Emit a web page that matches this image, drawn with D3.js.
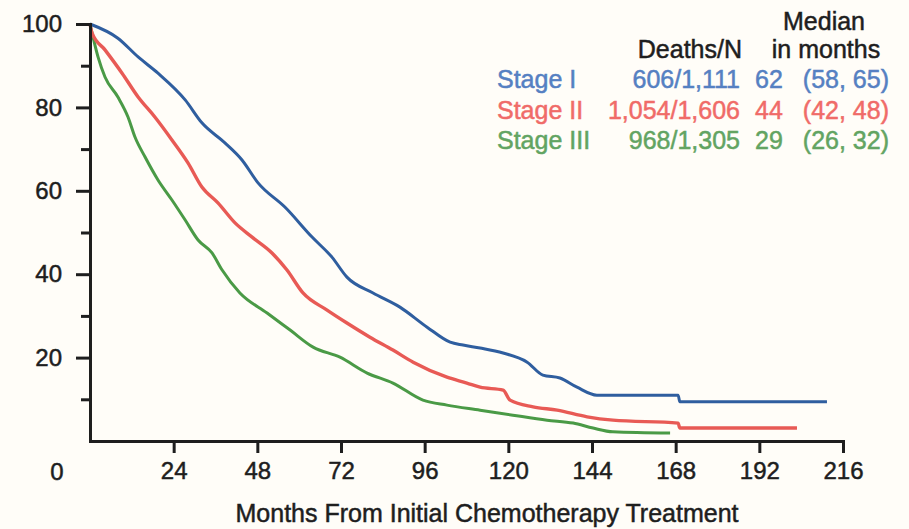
<!DOCTYPE html>
<html>
<head>
<meta charset="utf-8">
<script src="https://cdn.jsdelivr.net/npm/d3@7"></script>
<style>
  body { margin: 0; background: #fffdf8; }
  svg { display: block; font-family: "Liberation Sans", Arial, Helvetica, sans-serif; }
  svg text { stroke-width: 0.5px; }
  .axis path, .axis line { stroke: #1e1e1e; stroke-width: 3; }
  .axis text { fill: #1e1e1e; stroke: #1e1e1e; font-size: 24px; }
</style>
</head>
<body>
<script>
// Kaplan-Meier curves (months, % surviving)
var stageIMonths = [0, 8.0, 13.8, 19.5, 27.3, 32.1, 38.7, 43.6, 48.2, 55.9, 63.7, 69.4, 73.7, 81.2, 88.9, 96.7, 103.3, 107.0, 111.9, 118.5, 125.4, 129.9, 134.8, 139.7, 145.4, 168.7, 169.2, 211.4];
var stageISurv   = [100, 96.6, 92.1, 88.2, 81.8, 76.3, 71.5, 67.4, 61.9, 56.1, 48.9, 44.1, 39.3, 35.5, 32.1, 27.3, 23.7, 23.0, 22.3, 21.1, 18.9, 15.8, 15.1, 12.9, 11.0, 11.0, 9.4, 9.4];

var stageIIMonths = [0, 0.6, 4.3, 9.2, 13.8, 18.6, 23.5, 28.1, 32.1, 36.7, 41.6, 46.5, 52.2, 56.5, 61.1, 68.0, 73.7, 80.3, 86.9, 92.7, 102.4, 108.1, 111.9, 118.5, 120.5, 127.1, 134.0, 142.6, 150.0, 168.7, 169.2, 202.8];
var stageIISurv   = [100, 97.8, 93.8, 88.2, 82.5, 77.7, 72.2, 66.7, 60.9, 57.1, 52.3, 48.9, 45.1, 41.0, 35.5, 31.4, 28.3, 24.9, 21.8, 18.9, 15.3, 13.9, 12.9, 12.2, 9.8, 8.2, 7.4, 5.8, 5.0, 4.3, 3.1, 3.1];

var stageIIIMonths = [0, 0.6, 2.3, 4.3, 8.0, 10.9, 12.9, 15.8, 19.5, 23.5, 27.3, 31.0, 35.0, 37.9, 43.0, 50.8, 57.4, 64.0, 71.7, 79.5, 86.9, 95.5, 102.4, 111.9, 121.3, 131.1, 138.6, 144.3, 150.0, 166.4];
var stageIIISurv   = [100, 97.8, 92.1, 87.3, 82.5, 77.7, 72.9, 68.1, 62.6, 57.8, 53.0, 48.2, 45.1, 41.0, 35.5, 30.7, 26.6, 22.5, 20.1, 16.3, 13.9, 9.8, 8.6, 7.4, 6.2, 5.0, 4.3, 3.1, 2.2, 1.9];

// legend table
var stageNames = ["Stage I", "Stage II", "Stage III"];
var deathsN    = ["606/1,111", "1,054/1,606", "968/1,305"];
var medians    = ["62", "44", "29"];
var medianCI   = ["(58, 65)", "(42, 48)", "(26, 32)"];

// ticks
var xTicks = [24, 48, 72, 96, 120, 144, 168, 192, 216];
var yTicks = [20, 40, 60, 80, 100];
var yMinorTicks = [10, 30, 50, 70, 90];

var lineColors = ["#2f5e9f", "#e85a55", "#4a9a46"];
var textColors = ["#5580c2", "#f06b68", "#62a462"];

var width = 909, height = 529;

var svg = d3.select("body").append("svg")
    .attr("width", width)
    .attr("height", height);

var xScale = d3.scaleLinear().domain([0, 216]).range([90, 843]);
var yScale = d3.scaleLinear().domain([0, 100]).range([441, 24]);

var series = [
  d3.zip(stageIMonths, stageISurv),
  d3.zip(stageIIMonths, stageIISurv),
  d3.zip(stageIIIMonths, stageIIISurv)
];

var line = d3.line()
    .curve(d3.curveMonotoneX)
    .x(function (d) { return xScale(d[0]); })
    .y(function (d) { return yScale(d[1]); });

// curves (green under red under blue)
svg.append("g").selectAll("path")
    .data(series.slice().reverse())
    .enter().append("path")
    .attr("d", line)
    .attr("fill", "none")
    .attr("stroke-width", function (d, i) { return i === 1 ? 3.4 : 3; })
    .attr("stroke-linejoin", "round")
    .attr("stroke", function (d, i) { return lineColors[2 - i]; });

// X-axis
var xAxis = d3.axisBottom(xScale)
    .tickValues(xTicks)
    .tickSize(12)
    .tickPadding(9)
    .tickSizeOuter(0);

svg.append("g")
    .attr("class", "axis")
    .attr("transform", "translate(0," + yScale(0) + ")")
    .call(xAxis);

// Y-axis
var yAxis = d3.axisLeft(yScale)
    .tickValues(yTicks)
    .tickSize(14)
    .tickPadding(14)
    .tickSizeOuter(0);

svg.append("g")
    .attr("class", "axis")
    .attr("transform", "translate(" + xScale(0) + ",0)")
    .call(yAxis);

svg.append("g")
    .attr("class", "axis")
    .attr("transform", "translate(" + xScale(0) + ",0)")
    .call(d3.axisLeft(yScale).tickValues(yMinorTicks).tickSize(9).tickFormat(""))
    .select(".domain").remove();

svg.selectAll(".axis .domain").attr("stroke-linecap", "square");

// shared origin label
svg.append("text")
    .attr("x", xScale(0) - 33)
    .attr("y", 480)
    .attr("text-anchor", "middle")
    .attr("fill", "#1e1e1e")
    .attr("stroke", "#1e1e1e")
    .style("font-size", "24px")
    .text("0");

// X-axis label
svg.append("text")
    .attr("x", 487)
    .attr("y", 522)
    .attr("text-anchor", "middle")
    .attr("fill", "#1e1e1e")
    .attr("stroke", "#1e1e1e")
    .style("font-size", "25px")
    .text("Months From Initial Chemotherapy Treatment");

// legend
var legend = svg.append("g").style("font-size", "25px");

legend.append("text").attr("x", 824).attr("y", 30)
    .attr("text-anchor", "middle").attr("fill", "#1e1e1e").attr("stroke", "#1e1e1e").text("Median");
legend.append("text").attr("x", 742).attr("y", 58)
    .attr("text-anchor", "end").attr("fill", "#1e1e1e").attr("stroke", "#1e1e1e").text("Deaths/N");
legend.append("text").attr("x", 826).attr("y", 58)
    .attr("text-anchor", "middle").attr("fill", "#1e1e1e").attr("stroke", "#1e1e1e").text("in months");

var rows = legend.selectAll(".row")
    .data(stageNames)
    .enter().append("g")
    .attr("class", "row")
    .attr("fill", function (d, i) { return textColors[i]; })
    .attr("stroke", function (d, i) { return textColors[i]; })
    .attr("transform", function (d, i) { return "translate(0," + (88 + i * 30.5) + ")"; });

rows.append("text").attr("x", 497).text(function (d) { return d; });
rows.append("text").attr("x", 740).attr("text-anchor", "end")
    .text(function (d, i) { return deathsN[i]; });
rows.append("text").attr("x", 755)
    .text(function (d, i) { return medians[i]; });
rows.append("text").attr("x", 889).attr("text-anchor", "end")
    .text(function (d, i) { return medianCI[i]; });
</script>
</body>
</html>
